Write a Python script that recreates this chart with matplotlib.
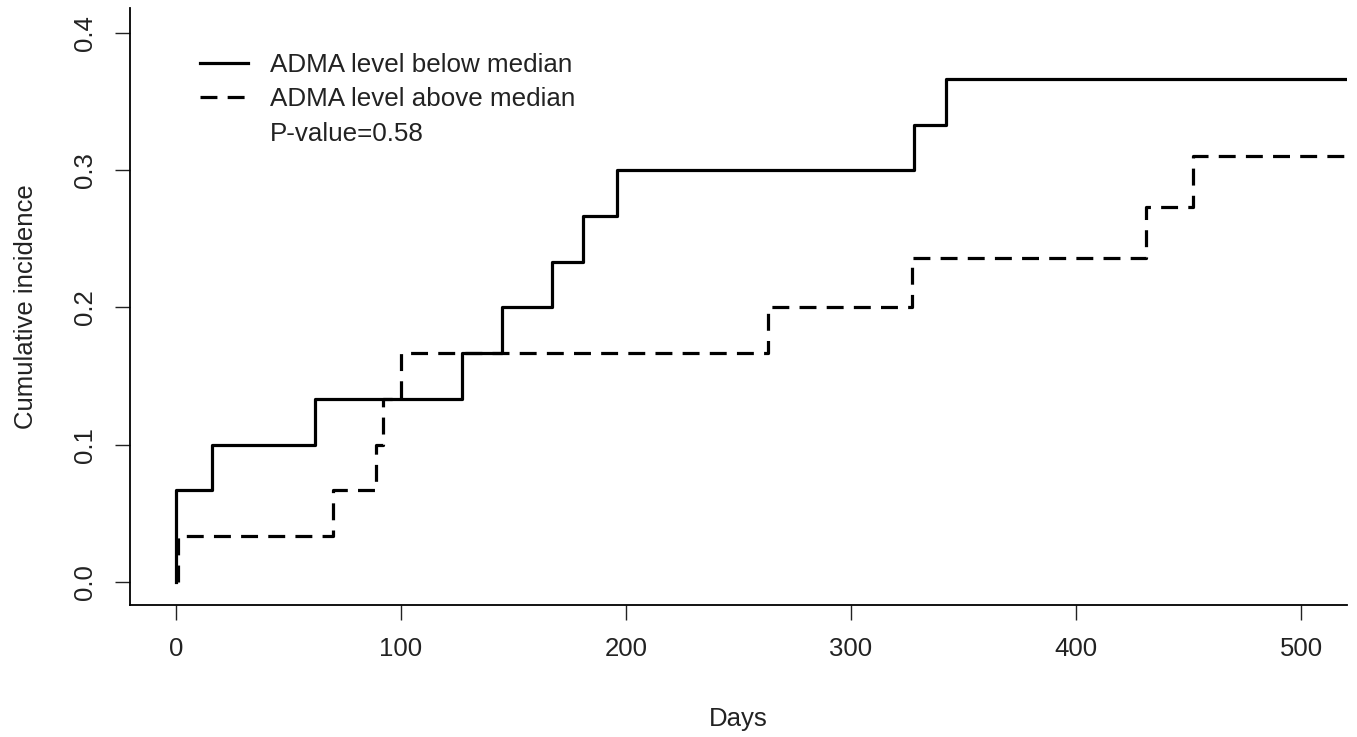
import numpy as np
import matplotlib
matplotlib.use("Agg")
import matplotlib.pyplot as plt
from matplotlib.lines import Line2D

plt.rcParams['font.family'] = ['Liberation Sans', 'DejaVu Sans']

# Cumulative incidence
below_days = [0, 0, 16, 62, 127, 145, 167, 181, 196, 328, 342, 520]
below_inc = [0.0, 0.0667, 0.1, 0.1333, 0.1667, 0.2, 0.2333, 0.2667, 0.3, 0.3333, 0.3667, 0.3667]

above_days = [1, 1, 70, 89, 92, 100, 263, 327, 431, 452, 520]
above_inc = [0.0, 0.0333, 0.0667, 0.1, 0.1333, 0.1667, 0.2, 0.2357, 0.2733, 0.3107, 0.3107]

x_ticks = [0, 100, 200, 300, 400, 500]
y_ticks = [0.0, 0.1, 0.2, 0.3, 0.4]
labels = ["ADMA level below median", "ADMA level above median", "P-value=0.58"]

fig = plt.figure(figsize=(13.57, 7.37), dpi=100)
ax = fig.add_axes([0.0958, 0.1791, 0.8968, 0.8100])

ax.plot(below_days, below_inc, drawstyle='steps-post', color='black', lw=2.3)
ax.plot(above_days, above_inc, drawstyle='steps-post', color='black', lw=2.3,
        dashes=(5.3, 3.2))

ax.set_xlim(-20.4, 520.4)
ax.set_ylim(-0.0168, 0.4182)

ax.spines['top'].set_visible(False)
ax.spines['right'].set_visible(False)
for s in ('left', 'bottom'):
    ax.spines[s].set_linewidth(1.3)

ax.set_xticks(x_ticks)
ax.set_xticklabels([str(t) for t in x_ticks])
ax.set_yticks(y_ticks)
ax.set_yticklabels([f"{t:.1f}" for t in y_ticks], rotation=90, va='center')
ax.tick_params(axis='both', direction='out', length=11, width=1.0,
               labelsize=18.5, colors='#222222', pad=12)
ax.tick_params(axis='y', pad=13)

ax.set_xlabel("Days", fontsize=18.5, color='#222222', labelpad=33)
ax.set_ylabel("Cumulative incidence", fontsize=18.5, color='#222222', labelpad=25)

handles = [Line2D([], [], color='black', lw=2.3),
           Line2D([], [], color='black', lw=2.3, dashes=(5.3, 3.2)),
           Line2D([], [], color='none')]
leg = ax.legend(handles, labels, loc='upper left', bbox_to_anchor=(0.0575, 0.925),
                frameon=False, fontsize=18.7, handlelength=1.85, handletextpad=0.85,
                labelspacing=0.4, borderaxespad=0, borderpad=0)
for t in leg.get_texts():
    t.set_color('#222222')

fig.savefig("out.png", dpi=100)
